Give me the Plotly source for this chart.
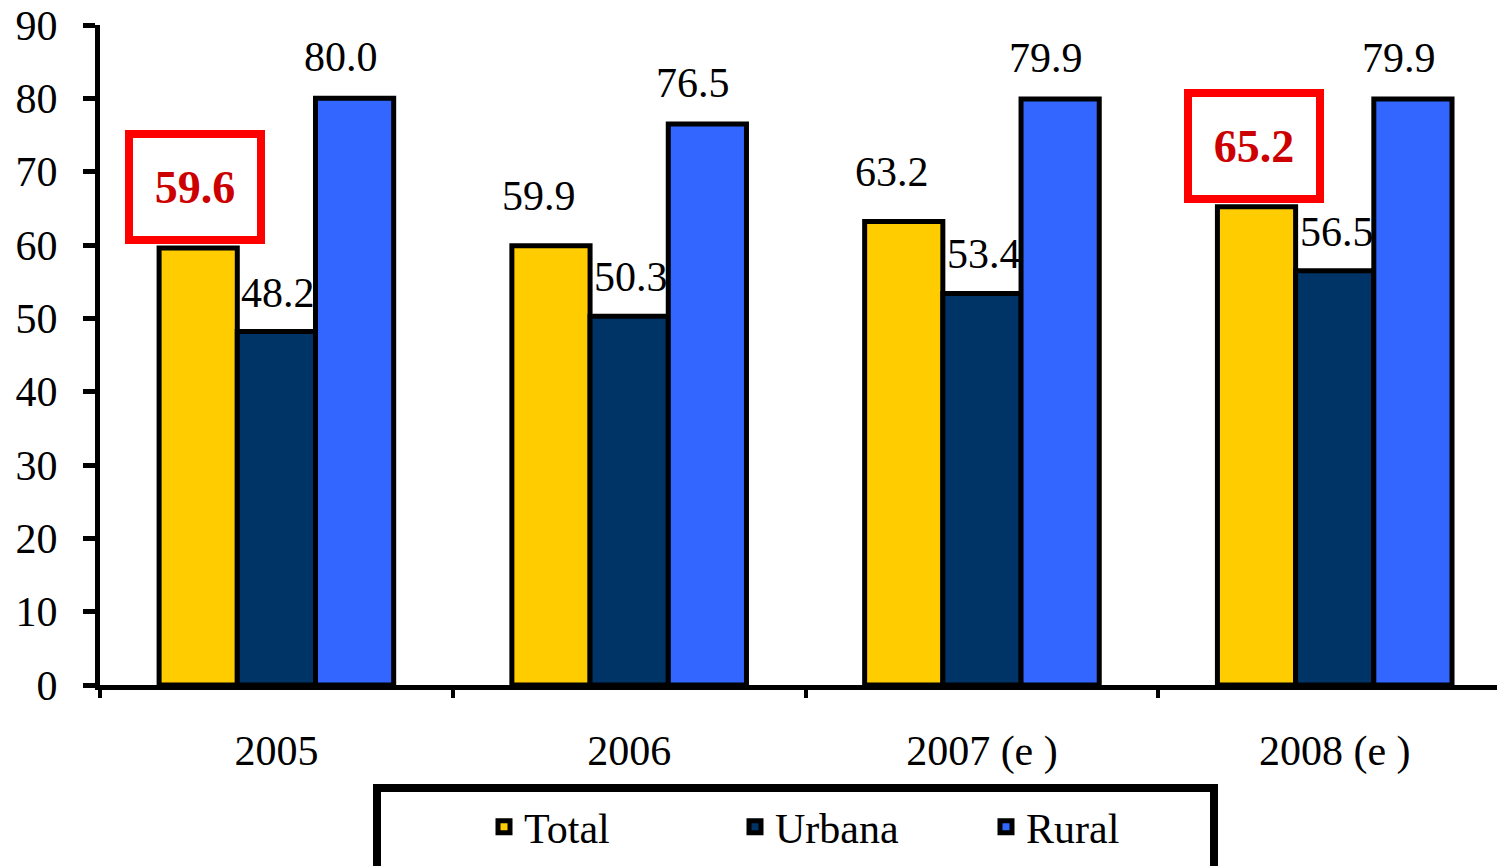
import plotly.graph_objects as go

categories = ["2005", "2006", "2007 (e )", "2008 (e )"]
total = [59.6, 59.9, 63.2, 65.2]
urbana = [48.2, 50.3, 53.4, 56.5]
rural = [80.0, 76.5, 79.9, 79.9]
highlight_total = [True, False, False, True]

series = [
    ("Total", total, "#FFCC00"),
    ("Urbana", urbana, "#003366"),
    ("Rural", rural, "#3366FF"),
]

FONT = "Liberation Serif"
W, H = 1497, 866
ML, MR, MT, MB = 100, 0, 25, 181
BARGAP = 0.335
bar_w = (1 - BARGAP) / 3

fig = go.Figure()
for name, vals, color in series:
    fig.add_trace(go.Bar(
        name=name, x=categories, y=vals,
        marker=dict(color=color, line=dict(color="black", width=5)),
    ))

# label offsets (px) for each series: (xshift, yshift)
label_off = {"Total": (-12, 50), "Urbana": (2, 39), "Rural": (-14, 41)}
annotations = []
for si, (name, vals, color) in enumerate(series):
    off = (si - 1) * bar_w
    for i, v in enumerate(vals):
        xpos = i + off
        if name == "Total" and highlight_total[i]:
            annotations.append(dict(
                x=xpos, y=v, xref="x", yref="y", text="<b>%.1f</b>" % v,
                showarrow=False, yanchor="bottom", yshift=4, xshift=-3,
                font=dict(family=FONT, size=46, color="#CC0000"),
                bordercolor="#FF0000", borderwidth=8, borderpad=0,
                bgcolor="white", width=124, height=98,
            ))
        else:
            xs, ys = label_off[name]
            annotations.append(dict(
                x=xpos, y=v, xref="x", yref="y", text="%.1f" % v,
                showarrow=False, yanchor="middle", xshift=xs, yshift=ys,
                font=dict(family=FONT, size=42, color="black"),
            ))

pw = W - ML - MR
ph = H - MT - MB

def px_to_paper_x(px):
    return (px - ML) / pw

def px_to_paper_y(py):
    return (H - MB - py) / ph

shapes = [dict(
    type="rect", xref="paper", yref="paper",
    x0=px_to_paper_x(377), x1=px_to_paper_x(1214),
    y0=px_to_paper_y(788), y1=px_to_paper_y(875),
    line=dict(color="black", width=8), fillcolor="rgba(0,0,0,0)",
)]

fig.update_layout(
    width=W, height=H,
    margin=dict(l=ML, r=MR, t=MT, b=MB, autoexpand=False),
    paper_bgcolor="white", plot_bgcolor="white",
    barmode="group", bargap=BARGAP, bargroupgap=0,
    font=dict(family=FONT, size=42, color="black"),
    annotations=annotations, shapes=shapes,
    showlegend=True,
    legend=dict(
        orientation="h", x=px_to_paper_x(484), xanchor="left",
        y=px_to_paper_y(827), yanchor="middle",
        font=dict(family=FONT, size=42, color="black"),
        bgcolor="rgba(0,0,0,0)", borderwidth=0, entrywidth=206,
    ),
    xaxis=dict(
        type="category", range=[-0.5, 3.46],
        showline=True, linecolor="black", linewidth=5,
        ticks="outside", tickson="boundaries", ticklen=8, tickwidth=4, tickcolor="black",
        showgrid=False, zeroline=False, ticklabelstandoff=25,
        tickfont=dict(family=FONT, size=42, color="black"),
    ),
    yaxis=dict(
        range=[0, 90], tickvals=list(range(0, 91, 10)),
        showline=True, linecolor="black", linewidth=5,
        ticks="outside", ticklen=12, tickwidth=5, tickcolor="black",
        showgrid=False, zeroline=False, ticklabelstandoff=17,
        tickfont=dict(family=FONT, size=42, color="black"),
    ),
)

fig.write_html(
    "out.html",
    config={"displayModeBar": False},
    post_script="document.body.style.margin='0';document.body.style.overflow='hidden';",
)
